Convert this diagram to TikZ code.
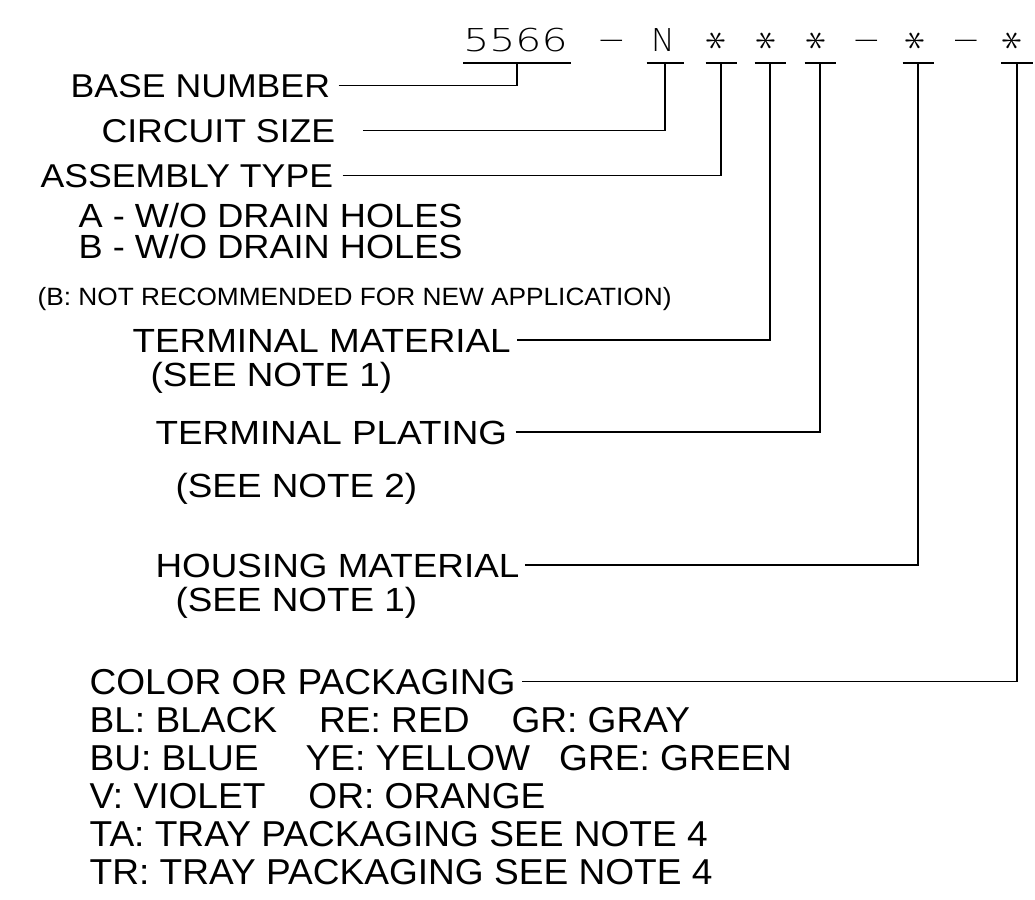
\documentclass[tikz,border=0pt]{standalone}
\usepackage{fontspec}
\setmainfont{Liberation Sans}
\IfFontExistsTF{DejaVuSans-ExtraLight.ttf}
  {\newfontfamily\cadface{DejaVuSans-ExtraLight.ttf}}
  {\newcommand{\cadface}{\fontfamily{lmtt}\fontseries{l}}}
\newfontfamily\wideface[FakeStretch=1.08]{Liberation Sans}
\newfontfamily\midface[FakeStretch=1.10]{Liberation Sans}
\newfontfamily\botface[FakeStretch=1.03]{Liberation Sans}
\newfontfamily\noteface[FakeStretch=1.05]{Liberation Sans}
\usetikzlibrary{positioning,calc}
\tikzstyle{pn} = [inner sep=0pt,anchor=base,font=\cadface\fontsize{31.5}{32}\selectfont]
\tikzstyle{toplbl} = [inner sep=0pt,anchor=base west,text height=23.6pt,text depth=0pt,font=\wideface\fontsize{33}{33}\selectfont]
\tikzstyle{midlbl} = [inner sep=0pt,anchor=base west,text height=24pt,text depth=0pt,font=\midface\fontsize{33.5}{34}\selectfont]
\tikzstyle{botlbl} = [inner sep=0pt,anchor=base west,text height=25.8pt,text depth=0pt,font=\botface\fontsize{36}{36}\selectfont]
\tikzstyle{notelbl} = [inner sep=0pt,anchor=base west,text height=18pt,text depth=0pt,font=\noteface\fontsize{25}{25}\selectfont]
\newcommand{\pnstar}{\scalebox{1.7}{\rotatebox{90}{$\ast$}}}
\newcommand{\pndash}{\scalebox{2.6}[1]{-}}

\begin{document}
\begin{tikzpicture}[x=1pt,y=-1pt]
\useasboundingbox (0,0) rectangle (1035,899);
\tikzset{every path/.style={line width=1.2pt}}

% part number
\node[pn] (pbase) at (515.5,52) {\scalebox{1.3}[1]{5566}};
\node[pn] (pd1) at (611.5,50) {\pndash};
\node[pn] (pcirc) at (663,52) {N};
\node[pn,anchor=center] (pasm) at (717,41) {\pnstar};
\node[pn,anchor=center] (ptmat) at (767,41) {\pnstar};
\node[pn,anchor=center] (ptplt) at (817,41) {\pnstar};
\node[pn] (pd2) at (866.5,50) {\pndash};
\node[pn,anchor=center] (phmat) at (916,41) {\pnstar};
\node[pn] (pd3) at (966,50) {\pndash};
\node[pn,anchor=center] (pcol) at (1013,41) {\pnstar};

% bars under the fields
\foreach \n/\x/\w in {sbase/517/54, scirc/665/18.5, sasm/721/15.5, stmat/770/15.5, stplt/820/15.5, shmat/918/15.5, scol/1017/16}{
  \coordinate (\n) at (\x,63);
  \draw ($(\n)+(-\w,0)$) -- ($(\n)+(\w,0)$);
}

% labels
\node[toplbl] (lbase) at (70,97) {BASE NUMBER};
\node[toplbl] (lcirc) at (101,142) {CIRCUIT SIZE};
\node[toplbl] (lasm) at (40,187) {ASSEMBLY TYPE};
\node[toplbl,font=\wideface\fontsize{33.5}{34}\selectfont] (lasma) at (78,227) {A - W/O DRAIN HOLES};
\node[toplbl,font=\wideface\fontsize{33.5}{34}\selectfont] (lasmb) at (78,258) {B - W/O DRAIN HOLES};
\node[notelbl] (lasmn) at (37,305) {(B: NOT RECOMMENDED FOR NEW APPLICATION)};

\node[midlbl] (ltmat) at (132,352) {TERMINAL MATERIAL};
\node[midlbl] (ltmatn) at (150,386) {(SEE NOTE 1)};
\node[midlbl] (ltplt) at (155,444) {TERMINAL PLATING};
\node[midlbl] (ltpltn) at (175,497) {(SEE NOTE 2)};
\node[midlbl] (lhmat) at (155,577) {HOUSING MATERIAL};
\node[midlbl] (lhmatn) at (175,611) {(SEE NOTE 1)};

\node[botlbl] (lcol) at (89,694) {COLOR OR PACKAGING};
\node[botlbl,below right=11pt and 0pt of lcol.south west] (lcol1) {BL: BLACK\hspace{42pt}RE: RED\hspace{42pt}GR: GRAY};
\node[botlbl,below right=11pt and 0pt of lcol1.south west] (lcol2) {BU: BLUE\hspace{47pt}YE: YELLOW\hspace{29pt}GRE: GREEN};
\node[botlbl,below right=11pt and 0pt of lcol2.south west] (lcol3) {V: VIOLET\hspace{43pt}OR: ORANGE};
\node[botlbl,below right=11pt and 0pt of lcol3.south west] (lcol4) {TA: TRAY PACKAGING SEE NOTE 4};
\node[botlbl,below right=11pt and 0pt of lcol4.south west] (lcol5) {TR: TRAY PACKAGING SEE NOTE 4};

% leaders
\draw ([xshift=8pt]lbase.east) -| (sbase);
\draw ([xshift=27pt]lcirc.east) -| (scirc);
\draw ([xshift=9pt]lasm.east) -| (sasm);
\draw ([xshift=6pt]ltmat.east) -| (stmat);
\draw ([xshift=8pt]ltplt.east) -| (stplt);
\draw ([xshift=5pt]lhmat.east) -| (shmat);
\draw ([xshift=6pt]lcol.east) -| (scol);
\end{tikzpicture}
\end{document}
